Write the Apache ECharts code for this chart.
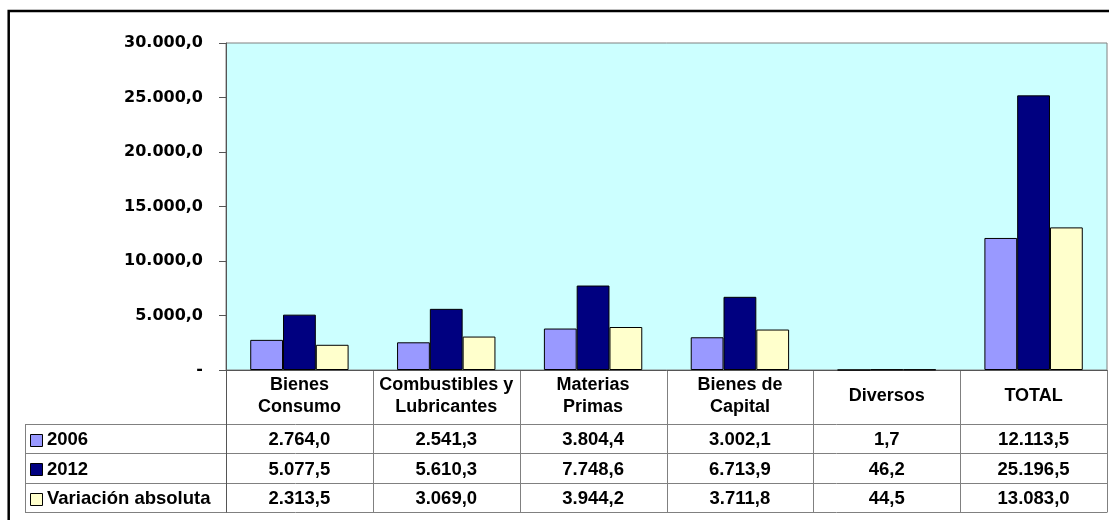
<!DOCTYPE html>
<html>
<head>
<meta charset="utf-8">
<script src="https://cdn.jsdelivr.net/npm/echarts@6/dist/echarts.min.js"></script>
<style>
html,body{margin:0;padding:0;background:#fff;}
#c{width:1109px;height:520px;}
</style>
</head>
<body>
<div id="c"></div>
<script>
// ---- data ----
const categories = ['Bienes\nConsumo', 'Combustibles y\nLubricantes', 'Materias\nPrimas', 'Bienes de\nCapital', 'Diversos', 'TOTAL'];
const seriesNames = ['2006', '2012', 'Variación absoluta'];
const values2006 = [2764.0, 2541.3, 3804.4, 3002.1, 1.7, 12113.5];
const values2012 = [5077.5, 5610.3, 7748.6, 6713.9, 46.2, 25196.5];
const valuesVar = [2313.5, 3069.0, 3944.2, 3711.8, 44.5, 13083.0];
const yMin = 0, yMax = 30000, yStep = 5000;

const colors = ['#9999FF', '#000080', '#FFFFCC'];
const allSeries = [values2006, values2012, valuesVar];

function fmt(v) {
  if (v === 0) return '-';
  const s = v.toFixed(1);
  let [ip, dp] = s.split('.');
  ip = ip.replace(/\B(?=(\d{3})+(?!\d))/g, '.');
  return ip + ',' + dp;
}

const chart = echarts.init(document.getElementById('c'), null, {renderer: 'canvas'});

const option = {
  animation: false,
  backgroundColor: '#fff',
  grid: {
    left: 226, top: 43, right: 2, bottom: 150,
    show: true, backgroundColor: '#CCFFFF', borderColor: '#808080', borderWidth: 1
  },
  xAxis: {
    type: 'category',
    data: categories,
    axisLine: {show: true, lineStyle: {color: '#555', width: 1}},
    axisTick: {show: false},
    axisLabel: {
      interval: 0, margin: 26, verticalAlign: 'middle',
      lineHeight: 22, color: '#000',
      fontFamily: '"Liberation Sans", Arial, sans-serif', fontWeight: 'bold', fontSize: 18
    },
    splitLine: {show: false}
  },
  yAxis: {
    type: 'value', min: yMin, max: yMax, interval: yStep,
    axisLine: {show: true, lineStyle: {color: '#555', width: 1}},
    axisTick: {show: true, inside: false, length: 7, lineStyle: {color: '#555'}},
    splitLine: {show: false},
    axisLabel: {
      margin: 23, color: '#000', formatter: v => fmt(v),
      fontFamily: '"DejaVu Sans", sans-serif', fontWeight: 'bold', fontSize: 16
    }
  },
  series: allSeries.map((vals, i) => ({
    name: seriesNames[i], type: 'bar', data: vals,
    barGap: '0%', barCategoryGap: '33%',
    itemStyle: {color: colors[i], borderColor: '#000', borderWidth: 1}
  }))
};
chart.setOption(option);

// ---- data table below the plot ----
function buildTable() {
  const xs = categories.map((c, i) => chart.convertToPixel({xAxisIndex: 0}, i));
  const cw = xs.length > 1 ? xs[1] - xs[0] : 146;
  const yb = chart.convertToPixel({yAxisIndex: 0}, 0);
  const headerH = 54, rowH = 29.4;
  const leftX = 25;
  const rightX = xs[xs.length - 1] + cw / 2;
  const tableFont = 'bold 18.5px "Liberation Sans", Arial, sans-serif';
  const lineColor = '#808080';
  const els = [];
  // outer frame
  els.push({type: 'rect', shape: {x: 8.7, y: 11, width: 1120, height: 540},
    style: {fill: 'none', stroke: '#000', lineWidth: 2.5}, silent: true});
  // horizontal lines
  for (let r = 0; r <= seriesNames.length; r++) {
    const y = Math.round(yb + headerH + r * rowH) + 0.5;
    els.push({type: 'line', shape: {x1: leftX, y1: y, x2: rightX, y2: y},
      style: {stroke: lineColor, lineWidth: 1}, silent: true});
  }
  // vertical lines at category boundaries
  const yEnd = Math.round(yb + headerH + seriesNames.length * rowH) + 0.5;
  for (let i = 0; i <= categories.length; i++) {
    const x = Math.round(xs[0] - cw / 2 + i * cw) + 0.5;
    els.push({type: 'line', shape: {x1: x, y1: yb, x2: x, y2: yEnd},
      style: {stroke: i === 0 ? '#555' : lineColor, lineWidth: 1}, silent: true});
  }
  // left border of legend column
  els.push({type: 'line', shape: {x1: leftX + 0.5, y1: Math.round(yb + headerH) + 0.5, x2: leftX + 0.5, y2: yEnd},
    style: {stroke: lineColor, lineWidth: 1}, silent: true});
  // rows
  seriesNames.forEach((name, r) => {
    const yc = yb + headerH + r * rowH + rowH / 2 + 1.5;
    els.push({type: 'rect', shape: {x: 30.5, y: Math.round(yc - 6.5) + 0.5, width: 12, height: 12},
      style: {fill: colors[r], stroke: '#000', lineWidth: 1}, silent: true});
    els.push({type: 'text', style: {text: name, x: 47, y: yc, align: 'left', verticalAlign: 'middle',
      font: tableFont, fill: '#000'}, silent: true});
    allSeries[r].forEach((v, i) => {
      els.push({type: 'text', style: {text: fmt(v), x: xs[i], y: yc, align: 'center', verticalAlign: 'middle',
        font: tableFont, fill: '#000'}, silent: true});
    });
  });
  chart.setOption({graphic: {elements: els}});
}
buildTable();
</script>
</body>
</html>
